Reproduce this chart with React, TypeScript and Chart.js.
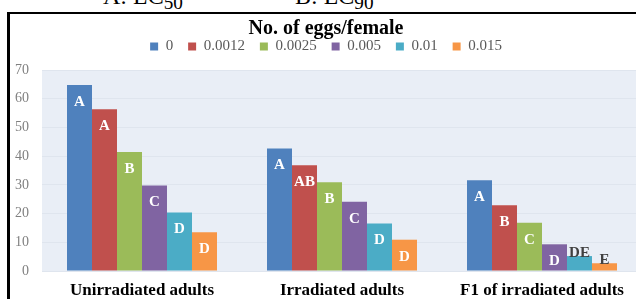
import React, { useEffect, useRef } from 'react';
import { Chart, registerables } from 'chart.js';

Chart.register(...registerables);

const categories = ['Unirradiated adults', 'Irradiated adults', 'F1 of irradiated adults'];
const seriesNames = ['0', '0.0012', '0.0025', '0.005', '0.01', '0.015'];
const seriesColors = ['#4F81BD', '#C0504D', '#9BBB59', '#8064A2', '#4BACC6', '#F79646'];

const conc0 = [64.8, 42.7, 31.6];
const conc0012 = [56.3, 36.8, 22.9];
const conc0025 = [41.4, 30.9, 16.8];
const conc005 = [29.8, 24.1, 9.3];
const conc01 = [20.4, 16.5, 5.2];
const conc015 = [13.5, 10.9, 2.7];

const letters0 = ['A', 'A', 'A'];
const letters0012 = ['A', 'AB', 'B'];
const letters0025 = ['B', 'B', 'C'];
const letters005 = ['C', 'C', 'D'];
const letters01 = ['D', 'D', 'DE'];
const letters015 = ['D', 'D', 'E'];

const yMin = 0;
const yMax = 70;
const yStep = 10;

const seriesValues = [conc0, conc0012, conc0025, conc005, conc01, conc015];
const seriesLetters = [letters0, letters0012, letters0025, letters005, letters01, letters015];

const FONT = "'Liberation Serif', 'Times New Roman', serif";

const plotBg = {
  id: 'plotBg',
  beforeDraw(chart: any) {
    const { ctx, chartArea } = chart;
    if (!chartArea) return;
    ctx.save();
    ctx.fillStyle = '#e9eef6';
    ctx.fillRect(chartArea.left, chartArea.top, chartArea.right - chartArea.left, chartArea.bottom - chartArea.top);
    ctx.restore();
  },
};

const letterLabels = {
  id: 'letterLabels',
  afterDatasetsDraw(chart: any) {
    const { ctx } = chart;
    ctx.save();
    ctx.font = `bold 15px ${FONT}`;
    ctx.textAlign = 'center';
    chart.data.datasets.forEach((_ds: any, i: number) => {
      const meta = chart.getDatasetMeta(i);
      meta.data.forEach((bar: any, j: number) => {
        const text = seriesLetters[i][j];
        const h = bar.base - bar.y;
        if (h >= 20) {
          ctx.fillStyle = '#ffffff';
          ctx.textBaseline = 'middle';
          ctx.fillText(text, bar.x, bar.y + 17);
        } else {
          ctx.fillStyle = '#404040';
          ctx.textBaseline = 'alphabetic';
          ctx.fillText(text, bar.x, bar.y + 1);
        }
      });
    });
    ctx.restore();
  },
};

export default function App() {
  const canvasRef = useRef<HTMLCanvasElement | null>(null);

  useEffect(() => {
    if (!canvasRef.current) return;
    const chart = new Chart(canvasRef.current, {
      type: 'bar',
      data: {
        labels: categories,
        datasets: seriesNames.map((name, i) => ({
          label: name,
          data: seriesValues[i],
          backgroundColor: seriesColors[i],
          borderWidth: 0,
          barPercentage: 1,
          categoryPercentage: 0.75,
        })),
      },
      options: {
        animation: false,
        responsive: false,
        devicePixelRatio: 1,
        layout: { padding: { left: 0, right: 8, top: 0, bottom: 0 } },
        plugins: {
          title: {
            display: true,
            text: 'No. of eggs/female',
            color: '#000000',
            font: { family: FONT, size: 20, weight: 'bold', lineHeight: 1.2 },
            padding: { top: 3, bottom: -17 },
          },
          legend: {
            display: true,
            position: 'top',
            weight: 1000,
            labels: {
              boxWidth: 8,
              boxHeight: 8,
              padding: 15,
              color: '#595959',
              font: { family: FONT, size: 15 },
            },
          },
          subtitle: {
            display: true,
            text: ' ',
            weight: 500,
            font: { family: FONT, size: 6, lineHeight: 1 },
            padding: { top: 0, bottom: 0 },
          },
          tooltip: { enabled: false },
        },
        scales: {
          x: {
            grid: { display: false, drawTicks: false },
            border: { display: false },
            ticks: {
              color: '#000000',
              padding: 9,
              font: { family: FONT, size: 17, weight: 'bold' },
              maxRotation: 0,
            },
            afterFit(scale: any) {
              scale.height = 43;
            },
          },
          y: {
            min: yMin,
            max: yMax,
            ticks: {
              stepSize: yStep,
              color: '#808080',
              padding: 13,
              font: { family: FONT, size: 14 },
            },
            grid: { color: '#dfe5ee', lineWidth: 1, drawTicks: false },
            border: { display: false },
            afterFit(scale: any) {
              scale.width = 32;
            },
          },
        },
      },
      plugins: [plotBg, letterLabels],
    });
    return () => chart.destroy();
  }, []);

  return (
    <div
      style={{
        position: 'absolute',
        left: 0,
        top: 0,
        width: 636,
        height: 299,
        overflow: 'hidden',
        background: '#ffffff',
      }}
    >
      <div
        style={{
          position: 'absolute',
          left: 103,
          top: -16,
          fontFamily: FONT,
          fontSize: 24,
          lineHeight: '24px',
          whiteSpace: 'nowrap',
          color: '#000',
        }}
      >
        A: LC<sub style={{ fontSize: '0.8em', verticalAlign: '-0.25em', lineHeight: 0 }}>50</sub>
      </div>
      <div
        style={{
          position: 'absolute',
          left: 295,
          top: -16,
          fontFamily: FONT,
          fontSize: 24,
          lineHeight: '24px',
          whiteSpace: 'nowrap',
          color: '#000',
        }}
      >
        B: LC<sub style={{ fontSize: '0.8em', verticalAlign: '-0.25em', lineHeight: 0 }}>90</sub>
      </div>
      <div
        style={{
          position: 'absolute',
          left: 7,
          top: 12,
          width: 700,
          height: 400,
          borderLeft: '3px solid #000',
          borderTop: '2px solid #000',
        }}
      >
        <canvas
          ref={canvasRef}
          width={640}
          height={300}
          style={{ position: 'absolute', left: 0, top: 0, width: 640, height: 300 }}
        />
      </div>
    </div>
  );
}
